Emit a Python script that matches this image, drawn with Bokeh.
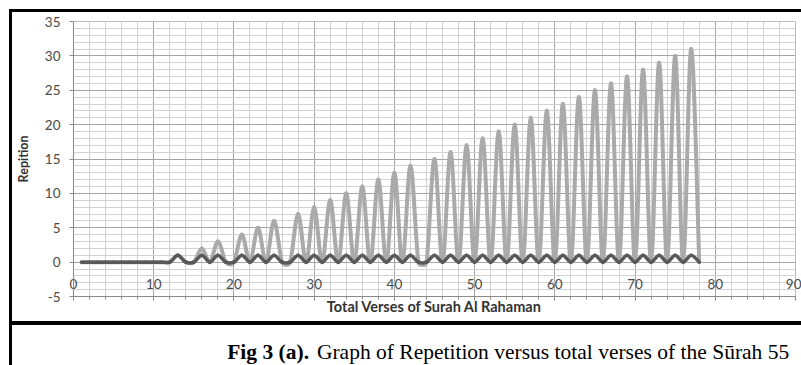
import math
from bokeh.plotting import figure
from bokeh.models import Range1d, SingleIntervalTicker, Label, Spacer, CustomJSTickFormatter
from bokeh.layouts import column, row
from bokeh.embed import file_html
from bokeh.resources import INLINE

# ---- data (Surah 55, verses 1..78) ----
verses = list(range(1, 79))
# running count of the repeated verse at each occurrence, 0 elsewhere
repetition_count = [0, 0, 0, 0, 0, 0, 0, 0, 0, 0, 0, 0,
                    1, 0, 0, 2, 0, 3, 0, 0, 4, 0, 5, 0, 6, 0, 0, 7, 0, 8,
                    0, 9, 0, 10, 0, 11, 0, 12, 0, 13, 0, 14, 0, 0, 15, 0, 16, 0, 17, 0,
                    18, 0, 19, 0, 20, 0, 21, 0, 22, 0, 23, 0, 24, 0, 25, 0, 26, 0, 27, 0,
                    28, 0, 29, 0, 30, 0, 31, 0]
# occurrence marker of the repeated verse
repetition_flag = [0, 0, 0, 0, 0, 0, 0, 0, 0, 0, 0, 0,
                   1, 0, 0, 1, 0, 1, 0, 0, 1, 0, 1, 0, 1, 0, 0, 1, 0, 1,
                   0, 1, 0, 1, 0, 1, 0, 1, 0, 1, 0, 1, 0, 0, 1, 0, 1, 0, 1, 0,
                   1, 0, 1, 0, 1, 0, 1, 0, 1, 0, 1, 0, 1, 0, 1, 0, 1, 0, 1, 0,
                   1, 0, 1, 0, 1, 0, 1, 0]
x_start, x_end, x_step = 0, 90, 10
y_start, y_end, y_step = -5, 35, 5
x_title = "Total Verses of Surah Al Rahaman"
y_title = "Repition"
caption_bold = "Fig 3 (a)."
caption_text = "Graph of Repetition versus total verses of the Sūrah 55"

# ---- geometry ----
PW, PH = 789, 309          # chart figure
BL, BR, BT, BB = 58, 6, 9, 25
FW = PW - BL - BR
FH = PH - BT - BB
kx = FW / (x_end - x_start)
ky = FH / (y_end - y_start)


def smooth_segments(xs, ys):
    """Excel-like smoothed line: cubic Bezier control points from neighbours."""
    pts = [(x * kx, y * ky) for x, y in zip(xs, ys)]
    n = len(pts)
    seg = dict(x0=[], y0=[], x1=[], y1=[], cx0=[], cy0=[], cx1=[], cy1=[])
    for i in range(n - 1):
        p0 = pts[i - 1] if i > 0 else pts[i]
        p1 = pts[i]
        p2 = pts[i + 1]
        p3 = pts[i + 2] if i + 2 < n else pts[i + 1]
        d02 = math.dist(p0, p2)
        d12 = math.dist(p1, p2)
        d13 = math.dist(p1, p3)
        f1 = 1 / 6 if d02 == 0 else min(1 / 6, d12 / (2 * d02))
        f2 = 1 / 6 if d13 == 0 else min(1 / 6, d12 / (2 * d13))
        c1 = (p1[0] + (p2[0] - p0[0]) * f1, p1[1] + (p2[1] - p0[1]) * f1)
        c2 = (p2[0] - (p3[0] - p1[0]) * f2, p2[1] - (p3[1] - p1[1]) * f2)
        seg["x0"].append(p1[0] / kx); seg["y0"].append(p1[1] / ky)
        seg["x1"].append(p2[0] / kx); seg["y1"].append(p2[1] / ky)
        seg["cx0"].append(c1[0] / kx); seg["cy0"].append(c1[1] / ky)
        seg["cx1"].append(c2[0] / kx); seg["cy1"].append(c2[1] / ky)
    return seg


p = figure(width=PW, height=PH, x_range=Range1d(x_start, x_end), y_range=Range1d(y_start, y_end),
           output_backend="svg", toolbar_location=None,
           min_border_left=BL, min_border_right=BR, min_border_top=BT, min_border_bottom=BB)
p.background_fill_color = "white"
p.border_fill_color = "white"
p.outline_line_color = "#bcbcbc"
p.outline_line_width = 1

p.xaxis.ticker = SingleIntervalTicker(interval=x_step, num_minor_ticks=5)
p.yaxis.ticker = SingleIntervalTicker(interval=y_step, num_minor_ticks=5)
p.yaxis.formatter = CustomJSTickFormatter(code="return String(tick);")

for g in (p.xgrid, p.ygrid):
    g.grid_line_color = "#a4a4a4"
    g.grid_line_width = 1
    g.minor_grid_line_color = "#d2d2d2"
    g.minor_grid_line_width = 1

tick_font = "Lato"
for ax in (p.xaxis, p.yaxis):
    ax.axis_line_color = "#8a8a8a"
    ax.major_tick_line_color = "#8a8a8a"
    ax.major_label_text_font = tick_font
    ax.major_label_text_font_size = "13.5px"
    ax.major_label_text_color = "#4a4a4a"
    ax.axis_label_text_font = tick_font
    ax.axis_label_text_font_style = "bold"
    ax.axis_label_text_color = "#333333"

p.xaxis.major_tick_out = 4
p.xaxis.major_tick_in = 0
p.xaxis.minor_tick_out = 3
p.xaxis.minor_tick_in = 0
p.xaxis.minor_tick_line_color = "#8a8a8a"
p.xaxis.major_label_standoff = -22
p.xaxis.axis_label = x_title
p.xaxis.axis_label_text_font_size = "14.5px"
p.xaxis.axis_label_standoff = 6

p.yaxis.major_tick_out = 4
p.yaxis.major_tick_in = 0
p.yaxis.minor_tick_line_color = None
p.yaxis.major_label_standoff = 9
p.yaxis.axis_label = y_title
p.yaxis.axis_label_text_font_size = "12.5px"
p.yaxis.axis_label_standoff = 11

light = smooth_segments(verses, repetition_count)
dark = smooth_segments(verses, repetition_flag)
p.bezier(x0=light["x0"], y0=light["y0"], x1=light["x1"], y1=light["y1"],
         cx0=light["cx0"], cy0=light["cy0"], cx1=light["cx1"], cy1=light["cy1"],
         line_color="#aaaaaa", line_width=4, line_cap="round")
p.bezier(x0=dark["x0"], y0=dark["y0"], x1=dark["x1"], y1=dark["y1"],
         cx0=dark["cx0"], cy0=dark["cy0"], cx1=dark["cx1"], cy1=dark["cy1"],
         line_color="#595959", line_width=3.5, line_cap="round")

# ---- caption panel ----
CW, CH = 789, 40
cap = figure(width=CW, height=CH, x_range=Range1d(0, CW), y_range=Range1d(0, CH),
             output_backend="svg", toolbar_location=None,
             x_axis_type=None, y_axis_type=None, min_border=0)
cap.outline_line_color = None
cap.background_fill_color = "white"
cap.border_fill_color = "white"
cap_font = "Liberation Serif"
cap.add_layout(Label(x=168, y=14, text=caption_bold,
                     text_font=cap_font, text_font_style="bold", text_font_size="21.5px",
                     text_baseline="alphabetic", text_align="left", text_color="black"))
cap.add_layout(Label(x=266, y=14, text=caption_text,
                     text_font=cap_font, text_font_size="21.5px",
                     text_baseline="alphabetic", text_align="left", text_color="black"))

black = {"background-color": "black"}
right_col = column(Spacer(width=PW, height=3, styles=black), p,
                   Spacer(width=PW, height=4, styles=black), cap)
layout = column(Spacer(width=801, height=9),
                row(Spacer(width=9, height=356), Spacer(width=3, height=356, styles=black), right_col))

open("out.html", "w").write(file_html(layout, INLINE))
